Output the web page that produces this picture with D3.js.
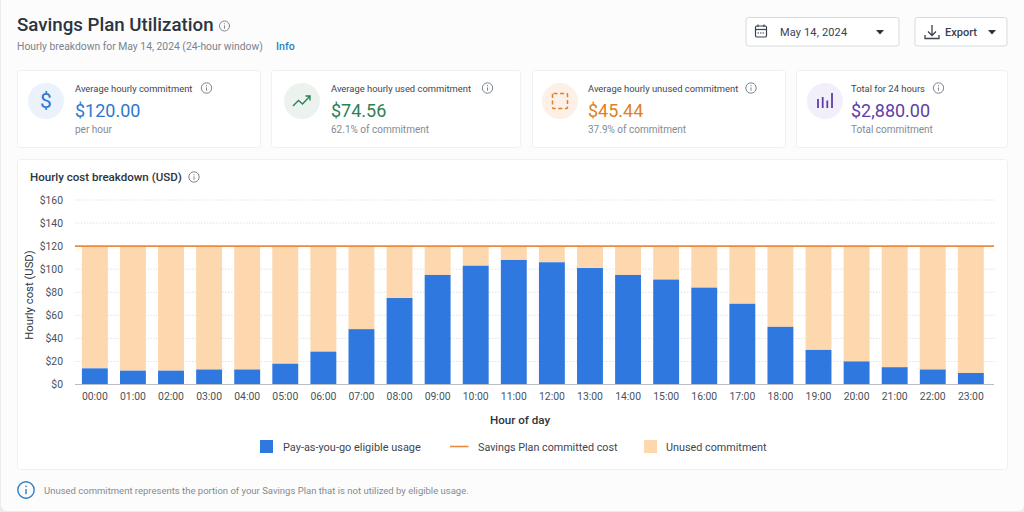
<!DOCTYPE html>
<html>
<head>
<meta charset="utf-8">
<script src="https://cdn.jsdelivr.net/npm/d3@7/dist/d3.min.js"></script>
<style>
html,body{margin:0;padding:0;background:#e9ebed;width:1024px;height:512px;overflow:hidden}
svg{display:block}
text{font-family:Roboto,sans-serif}
</style>
</head>
<body>
<svg id="chart" width="1024" height="512"></svg>
<script>
// Hourly figures in USD
const hours = ["00:00","01:00","02:00","03:00","04:00","05:00","06:00","07:00","08:00","09:00","10:00","11:00","12:00","13:00","14:00","15:00","16:00","17:00","18:00","19:00","20:00","21:00","22:00","23:00"];
const usage = [14,12,12,13,13,18,28.5,48,75,95,103,108,106,101,95,91,84,70,50,30,20,15,13,10];
const commitment = 120;
const yTicks = [0,20,40,60,80,100,120,140,160];
const legendLabels = ["Pay-as-you-go eligible usage","Savings Plan committed cost","Unused commitment"];
const kpiTitles = ["Average hourly commitment","Average hourly used commitment","Average hourly unused commitment","Total for 24 hours"];
const kpiValues = ["$120.00","$74.56","$45.44","$2,880.00"];
const kpiNotes = ["per hour","62.1% of commitment","37.9% of commitment","Total commitment"];

const BLUE="#2e78e0", PEACH="#fdd7ae", ORANGE="#ee8a3c";
const svg=d3.select("#chart");

// Page surface
svg.append("rect").attr("x",1).attr("y",-6).attr("width",1023).attr("height",517).attr("rx",6).attr("fill","#fcfcfc");

function label(g,x,y,t,size,fill,weight,anchor){
  return g.append("text").attr("x",x).attr("y",y).attr("font-size",size).attr("fill",fill)
    .attr("font-weight",weight||400).attr("text-anchor",anchor||"start").text(t);
}
function infoIcon(g,cx,cy,r,color,sw){
  const i=g.append("g").attr("transform",`translate(${cx},${cy})`);
  i.append("circle").attr("r",r).attr("fill","none").attr("stroke",color).attr("stroke-width",sw||1);
  i.append("line").attr("y1",-r*0.12).attr("y2",r*0.52).attr("stroke",color).attr("stroke-width",sw||1);
  i.append("circle").attr("cy",-r*0.45).attr("r",(sw||1)*0.6).attr("fill",color);
}
function panel(x,y,w,h,r){
  svg.append("rect").attr("x",x+.5).attr("y",y+.5).attr("width",w).attr("height",h).attr("rx",r||3)
    .attr("fill","#fff").attr("stroke","#eef0f2");
}

// Header
label(svg,17,31,"Savings Plan Utilization",18.7,"#2b3440",500);
infoIcon(svg,224.5,26,5,"#7d858e");
label(svg,17,50,"Hourly breakdown for May 14, 2024 (24-hour window)",10.35,"#7b838c");
label(svg,276,50,"Info",10.6,"#2f7fc4",500);

// Date picker and export buttons
svg.append("rect").attr("x",746).attr("y",17.5).attr("width",153).attr("height",28.5).attr("rx",2.5).attr("fill","#fff").attr("stroke","#d5d9dd");
svg.append("rect").attr("x",915).attr("y",17.5).attr("width",92).attr("height",28.5).attr("rx",2.5).attr("fill","#fff").attr("stroke","#d5d9dd");
const cal=svg.append("g").attr("fill","none").attr("stroke","#39424e").attr("stroke-width",1.2);
cal.append("rect").attr("x",755.5).attr("y",26).attr("width",11).attr("height",11).attr("rx",1.2);
cal.append("line").attr("x1",755.5).attr("x2",766.5).attr("y1",29.5).attr("y2",29.5);
cal.append("line").attr("x1",758).attr("x2",758).attr("y1",24.5).attr("y2",27);
cal.append("line").attr("x1",764).attr("x2",764).attr("y1",24.5).attr("y2",27);
cal.append("line").attr("x1",757.5).attr("x2",764.5).attr("y1",33).attr("y2",33).attr("stroke-dasharray","1.5 1");
label(svg,780,36,"May 14, 2024",11,"#39424e").attr("letter-spacing",0.15);
const tri=(x,y)=>svg.append("path").attr("d",`M${x-4},${y-2}h8l-4,4.6z`).attr("fill","#2b3440");
tri(880,32);
const dl=svg.append("g").attr("fill","none").attr("stroke","#39424e").attr("stroke-width",1.3);
dl.append("path").attr("d","M932,25v10M928,31.5l4,4l4,-4M925,35v3.5h14v-3.5");
label(svg,945,36,"Export",11,"#39424e",500);
tri(992,32);

// KPI cards
const cards=[
 {x:17,w:243,tint:"#ebf2fb",color:"#2e78d0"},
 {x:271,w:249,tint:"#ecf3ee",color:"#2d8256"},
 {x:532,w:253,tint:"#fdf1e7",color:"#df7f26"},
 {x:796,w:211,tint:"#f2effa",color:"#5f3da8"}
];
const iconDraw=[
 (g,c)=>g.append("text").attr("x",0).attr("y",7).attr("text-anchor","middle").attr("font-size",21).attr("fill",c).text("$"),
 (g,c)=>g.append("path").attr("d","M-9,5L-3.5,-0.5L0.5,3L8,-5M3.5,-5H8V-0.5").attr("fill","none").attr("stroke",c).attr("stroke-width",1.4),
 (g,c)=>g.append("rect").attr("x",-7.5).attr("y",-7.5).attr("width",15).attr("height",15).attr("rx",1).attr("fill","none").attr("stroke",c).attr("stroke-width",1.5).attr("stroke-dasharray","4 2.6"),
 (g,c)=>g.selectAll("line").data([[-7,-2],[-2.3,-4],[2.3,-0.5],[7,-8]]).join("line")
   .attr("x1",d=>d[0]).attr("x2",d=>d[0]).attr("y1",d=>d[1]).attr("y2",7).attr("stroke",c).attr("stroke-width",1.8)
];
const iconX=[46,302,560,825], textX=[75,331,588,851], infoX=[206.5,487.5,751,938.5];
cards.forEach((c,i)=>{
  panel(c.x,70,c.w,77,3);
  const g=svg.append("g").attr("transform",`translate(${iconX[i]},101)`);
  g.append("circle").attr("r",18).attr("fill",c.tint);
  iconDraw[i](g,c.color);
  label(svg,textX[i],92,kpiTitles[i],9.4,"#3e4650");
  infoIcon(svg,infoX[i],88,5.2,"#7d858e");
  label(svg,textX[i],117,kpiValues[i],18,c.color,400);
  label(svg,textX[i],133,kpiNotes[i],10,"#848b93");
});

// Chart panel
panel(17,159,990,310,3);
label(svg,30,181,"Hourly cost breakdown (USD)",11.55,"#2b3440",500);
infoIcon(svg,194,177,5.2,"#7d858e");

const x=d3.scaleBand().domain(hours).range([75.8,989.9]).paddingInner(0.32).paddingOuter(0.16);
const y=d3.scaleLinear().domain([0,160]).range([384.5,200]);

// Gridlines
svg.append("g").selectAll("line").data(yTicks.filter(d=>d>0)).join("line")
  .attr("x1",75).attr("x2",995).attr("y1",d=>y(d)).attr("y2",d=>y(d))
  .attr("stroke","#dfe2e6").attr("stroke-dasharray","1.5 1.5");

// Unused commitment stacked on top of eligible usage
svg.append("g").selectAll("rect").data(hours).join("rect")
  .attr("x",d=>x(d)).attr("width",x.bandwidth())
  .attr("y",y(commitment)).attr("height",(d,i)=>y(usage[i])-y(commitment))
  .attr("fill",PEACH);
svg.append("g").selectAll("rect").data(hours).join("rect")
  .attr("x",d=>x(d)).attr("width",x.bandwidth())
  .attr("y",(d,i)=>y(usage[i])).attr("height",(d,i)=>y(0)-y(usage[i]))
  .attr("fill",BLUE);

// Committed cost line
svg.append("path").datum([75,994])
  .attr("d",d3.line().x(d=>d).y(()=>y(commitment)))
  .attr("stroke",ORANGE).attr("stroke-width",1.6).attr("fill","none");

// Axes
const yAxis=svg.append("g").attr("transform","translate(75,0)")
  .call(d3.axisLeft(y).tickValues(yTicks).tickFormat(d=>"$"+d).tickSize(0).tickPadding(12));
yAxis.select(".domain").remove();
const xAxis=svg.append("g").attr("transform",`translate(0,${y(0)})`)
  .call(d3.axisBottom(x).tickSize(0).tickPadding(8));
xAxis.select(".domain").remove();
svg.append("line").attr("x1",75).attr("x2",994).attr("y1",y(0)).attr("y2",y(0)).attr("stroke","#b9bdc2");
svg.selectAll(".tick text").attr("font-family","Roboto,sans-serif").attr("font-size",10.4).attr("fill","#4a525c");

label(svg,0,0,"Hourly cost (USD)",11.3,"#2b3440",400,"middle").attr("transform","translate(33,295) rotate(-90)");
label(svg,520,424,"Hour of day",11.6,"#2b3440",500,"middle");

// Legend
svg.append("rect").attr("x",260).attr("y",440).attr("width",13).attr("height",13).attr("fill",BLUE);
label(svg,283,451,legendLabels[0],10.95,"#3e4650");
svg.append("line").attr("x1",450).attr("x2",468.5).attr("y1",446.5).attr("y2",446.5).attr("stroke",ORANGE).attr("stroke-width",1.6);
label(svg,478,451,legendLabels[1],10.75,"#3e4650");
svg.append("rect").attr("x",644).attr("y",440).attr("width",13).attr("height",13).attr("fill",PEACH);
label(svg,666,451,legendLabels[2],10.8,"#3e4650");

// Footnote
infoIcon(svg,26,490,8.2,"#2f7fc4",1.4);
label(svg,44,494,"Unused commitment represents the portion of your Savings Plan that is not utilized by eligible usage.",9.5,"#848b93");
</script>
</body>
</html>
